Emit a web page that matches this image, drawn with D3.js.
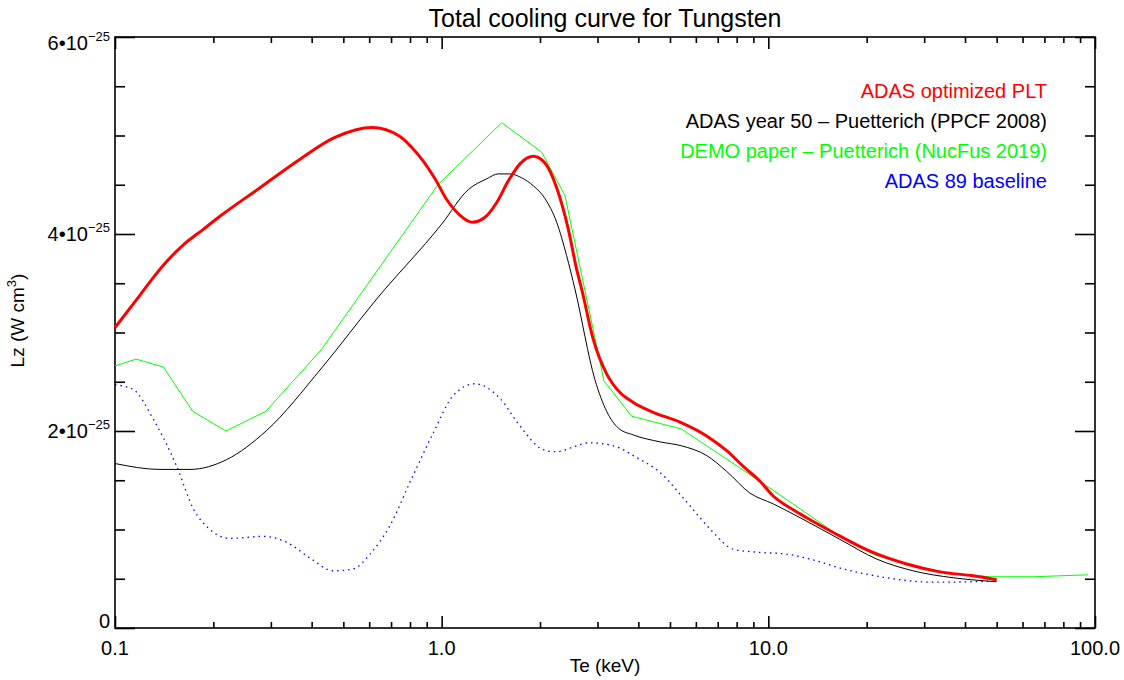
<!DOCTYPE html>
<html>
<head>
<meta charset="utf-8">
<script src="https://cdn.jsdelivr.net/npm/d3@7/dist/d3.min.js"></script>
<style>
  body { margin: 0; background: #fff; }
  text { font-family: "Liberation Sans", Arial, Helvetica, sans-serif; fill: #000; }
</style>
</head>
<body>
<svg id="chart" width="1124" height="680"></svg>
<script>
// Te in keV, Lz in units of 1e-25 W cm^3
const redTe = [0.1, 0.1193, 0.1326, 0.1439, 0.1619, 0.185, 0.2096, 0.2779, 0.3684, 0.4714, 0.612, 0.7456, 0.809, 0.878, 0.954, 1.036, 1.138, 1.241, 1.357, 1.474, 1.600, 1.745, 1.907, 2.071, 2.249, 2.441, 2.590, 2.683, 2.911, 3.199, 3.515, 3.861, 4.443, 5.363, 6.474, 7.455, 8.38, 9.426, 10.35, 11.92, 13.1, 15.80, 20.46, 26.50, 33.51, 42.39, 50.0];
const redLz = [3.05, 3.38, 3.58, 3.72, 3.89, 4.04, 4.18, 4.47, 4.76, 4.98, 5.08, 4.99, 4.88, 4.74, 4.56, 4.35, 4.19, 4.12, 4.17, 4.32, 4.54, 4.72, 4.79, 4.72, 4.47, 4.05, 3.64, 3.44, 2.93, 2.58, 2.39, 2.29, 2.19, 2.09, 1.95, 1.80, 1.64, 1.49, 1.34, 1.20, 1.12, 0.97, 0.78, 0.65, 0.57, 0.53, 0.49];

const blackTe = [0.1, 0.1373, 0.1697, 0.2198, 0.290, 0.4293, 0.6324, 1.0, 1.206, 1.373, 1.491, 1.618, 1.758, 1.907, 2.071, 2.249, 2.413, 2.559, 2.946, 3.199, 3.473, 3.861, 4.658, 5.42, 6.48, 7.455, 8.78, 10.35, 12.50, 16.56, 21.46, 27.77, 36.81, 50.0];
const blackLz = [1.67, 1.61, 1.61, 1.71, 2.00, 2.64, 3.34, 4.10, 4.45, 4.56, 4.61, 4.61, 4.57, 4.49, 4.36, 4.12, 3.78, 3.44, 2.52, 2.20, 2.03, 1.96, 1.89, 1.85, 1.75, 1.59, 1.37, 1.26, 1.12, 0.90, 0.70, 0.58, 0.51, 0.47];

const greenTe = [0.1, 0.116, 0.1406, 0.1729, 0.2185, 0.2898, 0.4292, 0.974, 1.527, 2.024, 2.385, 3.139, 3.815, 5.42, 9.426, 12.50, 16.56, 21.20, 26.50, 36.8, 47.7, 64.7, 95.3];
const greenLz = [2.66, 2.73, 2.65, 2.20, 2.00, 2.20, 2.83, 4.50, 5.13, 4.83, 4.39, 2.51, 2.15, 2.02, 1.49, 1.21, 0.93, 0.74, 0.65, 0.545, 0.52, 0.52, 0.54];

const blueTe = [0.1, 0.1138, 0.131, 0.1545, 0.1737, 0.1953, 0.2249, 0.2844, 0.3355, 0.3954, 0.4658, 0.5363, 0.6034, 0.6947, 0.7998, 0.9426, 1.085, 1.265, 1.509, 1.737, 2.046, 2.222, 2.844, 3.352, 3.954, 4.658, 5.490, 6.176, 6.783, 7.808, 9.21, 11.38, 13.41, 16.96, 23.02, 31.97, 50.0];
const blueLz = [2.47, 2.42, 2.12, 1.64, 1.21, 1.00, 0.91, 0.93, 0.87, 0.71, 0.58, 0.60, 0.75, 1.04, 1.48, 1.98, 2.36, 2.48, 2.33, 2.05, 1.81, 1.79, 1.88, 1.85, 1.73, 1.58, 1.32, 1.12, 0.97, 0.80, 0.77, 0.75, 0.70, 0.60, 0.51, 0.465, 0.475];

const xMajorTicks = [0.1, 1, 10, 100];
const xTickLabels = ['0.1', '1.0', '10.0', '100.0'];
const yMajorTicks = [0, 2, 4, 6];
const yTickLabels = ['0', '2•10', '4•10', '6•10'];
const yTickExponent = '−25';

const legendLabels = ['ADAS optimized PLT', 'ADAS year 50 – Puetterich (PPCF 2008)', 'DEMO paper – Puetterich (NucFus 2019)', 'ADAS 89 baseline'];
const legendColors = ['#ff0000', '#000000', '#00ff00', '#0000ff'];

const margin = {top: 37, right: 29, bottom: 52, left: 115};
const width = 1124;
const height = 680;
const plotRight = width - margin.right;
const plotBottom = height - margin.bottom;

const svg = d3.select('#chart');

const x = d3.scaleLog()
    .domain([0.1, 100])
    .range([margin.left, plotRight]);

const y = d3.scaleLinear()
    .domain([0, 6])
    .range([plotBottom, margin.top]);

const xMinor = x.ticks().filter(t => !xMajorTicks.some(m => Math.abs(m - t) < 1e-9));
const yMinor = y.ticks(12).filter(t => !yMajorTicks.includes(t));

// ticks, all pointing inward
function drawTicks(axis, transform) {
    const g = svg.append('g')
        .attr('transform', transform)
        .call(axis);
    g.select('.domain').remove();
    g.selectAll('line').attr('stroke', '#000').attr('stroke-width', 1.6);
}
drawTicks(d3.axisBottom(x).tickValues(xMajorTicks).tickSize(-12).tickFormat(''), `translate(0,${plotBottom})`);
drawTicks(d3.axisBottom(x).tickValues(xMinor).tickSize(-6).tickFormat(''), `translate(0,${plotBottom})`);
drawTicks(d3.axisTop(x).tickValues(xMajorTicks).tickSize(-12).tickFormat(''), `translate(0,${margin.top})`);
drawTicks(d3.axisTop(x).tickValues(xMinor).tickSize(-6).tickFormat(''), `translate(0,${margin.top})`);
drawTicks(d3.axisLeft(y).tickValues(yMajorTicks).tickSize(-20).tickFormat(''), `translate(${margin.left},0)`);
drawTicks(d3.axisLeft(y).tickValues(yMinor).tickSize(-10).tickFormat(''), `translate(${margin.left},0)`);
drawTicks(d3.axisRight(y).tickValues(yMajorTicks).tickSize(-20).tickFormat(''), `translate(${plotRight},0)`);
drawTicks(d3.axisRight(y).tickValues(yMinor).tickSize(-10).tickFormat(''), `translate(${plotRight},0)`);

svg.append('rect')
    .attr('x', margin.left)
    .attr('y', margin.top)
    .attr('width', plotRight - margin.left)
    .attr('height', plotBottom - margin.top)
    .attr('fill', 'none')
    .attr('stroke', '#000')
    .attr('stroke-width', 1.6);

// x tick labels
svg.append('g')
    .selectAll('text')
    .data(xMajorTicks)
    .join('text')
        .attr('x', d => x(d))
        .attr('y', plotBottom + 27)
        .attr('text-anchor', 'middle')
        .attr('font-size', 20)
        .text((d, i) => xTickLabels[i]);

// y tick labels, kept inside the plot height like IDL does
const yLabels = svg.append('g')
    .selectAll('text')
    .data(yMajorTicks)
    .join('text')
        .attr('x', margin.left - 5)
        .attr('y', d => Math.min(plotBottom, Math.max(margin.top + 13, y(d) + 7)))
        .attr('text-anchor', 'end')
        .attr('font-size', 20);
yLabels.append('tspan').text((d, i) => yTickLabels[i]);
yLabels.filter(d => d !== 0)
    .append('tspan')
        .attr('dy', -9)
        .attr('font-size', 13)
        .text(yTickExponent);

// axis titles
svg.append('text')
    .attr('x', (margin.left + plotRight) / 2)
    .attr('y', 27)
    .attr('text-anchor', 'middle')
    .attr('font-size', 25)
    .text('Total cooling curve for Tungsten');

svg.append('text')
    .attr('x', (margin.left + plotRight) / 2)
    .attr('y', 672)
    .attr('text-anchor', 'middle')
    .attr('font-size', 19)
    .text('Te (keV)');

const yTitle = svg.append('text')
    .attr('transform', `translate(24, ${(margin.top + plotBottom) / 2 - 12}) rotate(-90)`)
    .attr('text-anchor', 'middle')
    .attr('font-size', 19);
yTitle.append('tspan').text('Lz (W cm');
yTitle.append('tspan').attr('dy', -8).attr('font-size', 13).text('3');
yTitle.append('tspan').attr('dy', 8).text(')');

// curves
const series = [
    {te: blueTe, lz: blueLz, color: '#0000ff', width: 1.3, dash: '1.5,4', curve: d3.curveMonotoneX},
    {te: blackTe, lz: blackLz, color: '#000000', width: 1, dash: null, curve: d3.curveMonotoneX},
    {te: greenTe, lz: greenLz, color: '#00ff00', width: 1, dash: null, curve: d3.curveLinear},
    {te: redTe, lz: redLz, color: '#ff0000', width: 3, dash: null, curve: d3.curveMonotoneX}
];

series.forEach(s => {
    const pts = s.te.map((t, i) => [t, s.lz[i]]);
    const line = d3.line()
        .x(d => x(d[0]))
        .y(d => y(d[1]))
        .curve(s.curve);
    svg.append('path')
        .datum(pts)
        .attr('d', line)
        .attr('fill', 'none')
        .attr('stroke', s.color)
        .attr('stroke-width', s.width)
        .attr('stroke-linejoin', 'round')
        .attr('stroke-dasharray', s.dash);
});

// legend
svg.append('g')
    .selectAll('text')
    .data(legendLabels)
    .join('text')
        .attr('x', 1047)
        .attr('y', (d, i) => 98 + i * 30)
        .attr('text-anchor', 'end')
        .attr('font-size', 20)
        .style('fill', (d, i) => legendColors[i])
        .text(d => d);
</script>
</body>
</html>
